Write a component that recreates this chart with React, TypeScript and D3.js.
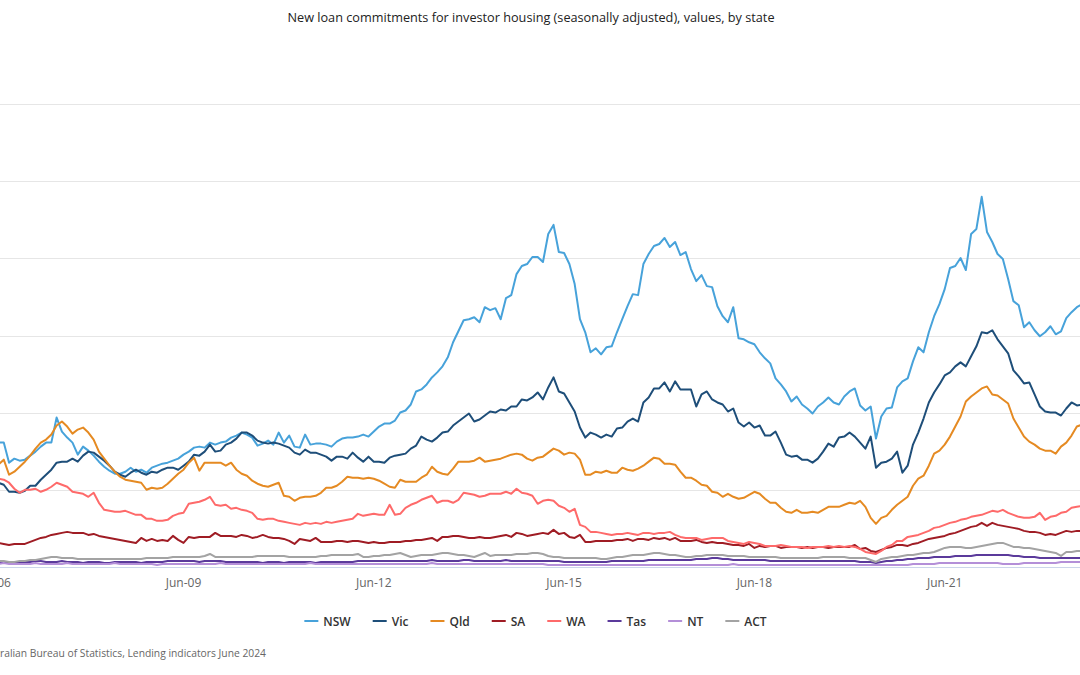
import React, { useEffect, useRef } from 'react';
import * as d3 from 'd3';

const titleText = 'New loan commitments for investor housing (seasonally adjusted), values, by state';
const sourceText = 'Source: Australian Bureau of Statistics, Lending indicators June 2024';
const sourceHiddenPrefix = 'Source: Aust';

// Monthly series, first value = May 2006 ($m)
const tickLabels = ['Jun-06', 'Jun-09', 'Jun-12', 'Jun-15', 'Jun-18', 'Jun-21'];
const tickOffsets = [1, 37, 73, 109, 145, 181]; // months after May 2006
const yTicks = [0, 1000, 2000, 3000, 4000, 5000, 6000];

const seriesNames = ['NSW', 'Vic', 'Qld', 'SA', 'WA', 'Tas', 'NT', 'ACT'];
const seriesColors = ['#47a2da', '#1e4e79', '#e58a22', '#9f1c24', '#fe6a6a', '#5b3a9b', '#b48fd8', '#a3a3a3'];

const NSW = [
  1651,1625,1612,1612,1352,1404,1378,1391,1443,1495,
  1560,1612,1612,1937,1755,1677,1612,1456,1560,1508,
  1443,1365,1300,1248,1209,1209,1235,1287,1235,1261,
  1222,1287,1313,1339,1352,1378,1404,1456,1495,1547,
  1560,1547,1612,1586,1612,1625,1677,1703,1742,1716,
  1677,1573,1599,1638,1586,1742,1612,1703,1560,1547,
  1716,1586,1599,1599,1586,1560,1625,1664,1677,1677,
  1690,1716,1690,1755,1820,1859,1859,1898,2002,2028,
  2106,2275,2301,2366,2457,2522,2600,2717,2912,3055,
  3198,3211,3237,3172,3367,3328,3354,3211,3484,3523,
  3796,3900,3926,4017,4017,3952,4316,4433,4082,4069,
  3926,3666,3211,3042,2782,2834,2756,2847,2860,3042,
  3211,3380,3536,3523,3926,4056,4160,4186,4264,4147,
  4212,4043,4082,3861,3705,3783,3640,3627,3380,3250,
  3172,3367,2964,2951,2912,2886,2782,2704,2639,2444,
  2366,2275,2145,2210,2106,2054,1989,2080,2132,2197,
  2132,2106,2210,2275,2314,2093,2028,2080,1664,1950,
  2054,2067,2327,2405,2444,2665,2847,2782,3042,3250,
  3406,3601,3874,3900,4004,3848,4316,4381,4797,4342,
  4212,4056,3991,3731,3445,3393,3107,3172,3068,2990,
  3042,3120,3016,3055,3224,3302,3367,3406,
];

const Vic = [
  1105,1105,1092,1066,975,975,962,988,1053,1053,
  1131,1196,1261,1352,1365,1365,1404,1365,1443,1495,
  1482,1430,1378,1313,1235,1196,1170,1222,1261,1222,
  1196,1235,1222,1261,1287,1287,1261,1313,1365,1456,
  1443,1495,1586,1495,1508,1586,1612,1664,1742,1742,
  1703,1638,1612,1599,1612,1599,1573,1547,1482,1456,
  1521,1482,1482,1456,1430,1378,1430,1430,1404,1482,
  1417,1365,1430,1365,1365,1352,1417,1443,1456,1469,
  1534,1573,1690,1651,1625,1677,1742,1755,1833,1885,
  1937,1989,1885,1911,1963,2015,2002,2041,2028,2080,
  2080,2171,2158,2197,2262,2171,2327,2457,2275,2249,
  2132,2015,1807,1677,1742,1716,1677,1716,1690,1794,
  1807,1885,1924,1885,2132,2197,2314,2314,2392,2275,
  2405,2301,2301,2301,2080,2236,2275,2171,2132,2106,
  2015,2054,1872,1820,1872,1807,1833,1703,1703,1755,
  1612,1456,1430,1443,1391,1391,1352,1404,1495,1599,
  1560,1677,1690,1742,1690,1612,1534,1690,1287,1352,
  1365,1404,1495,1222,1313,1586,1742,1924,2132,2262,
  2366,2483,2522,2600,2652,2600,2730,2860,3042,3029,
  3068,2951,2860,2769,2548,2470,2379,2392,2236,2080,
  2015,2002,2002,1963,2054,2132,2093,2106,
];

const Qld = [
  1261,1287,1326,1391,1196,1235,1300,1365,1443,1534,
  1612,1651,1716,1833,1885,1820,1729,1781,1807,1742,
  1651,1495,1404,1313,1235,1170,1131,1118,1105,1092,
  1001,1027,1014,1027,1079,1144,1209,1261,1352,1417,
  1248,1352,1352,1352,1352,1313,1352,1261,1209,1183,
  1118,1079,1053,1040,1066,1092,923,910,858,897,
  910,910,923,962,1027,1027,1053,1105,1170,1157,
  1157,1144,1157,1144,1118,1079,1040,1027,1131,1105,
  1105,1105,1157,1196,1300,1235,1209,1196,1274,1365,
  1365,1365,1378,1417,1365,1378,1391,1404,1430,1456,
  1469,1456,1404,1378,1417,1430,1482,1534,1508,1456,
  1482,1469,1391,1196,1196,1235,1222,1248,1222,1222,
  1287,1261,1248,1274,1313,1365,1417,1404,1339,1339,
  1326,1235,1157,1157,1118,1066,1053,975,962,910,
  949,910,884,897,936,975,949,884,832,832,
  767,715,702,741,702,702,715,702,741,780,
  780,780,806,832,819,858,780,637,559,637,
  663,741,806,858,910,1053,1144,1183,1313,1469,
  1508,1586,1690,1820,1950,2145,2210,2262,2314,2340,
  2236,2223,2171,2119,1924,1807,1690,1625,1586,1534,
  1508,1508,1469,1560,1612,1703,1820,1846,
];

const SA = [
  312,312,312,299,286,299,299,299,325,351,
  377,390,416,429,442,455,442,442,442,416,
  429,403,390,377,364,351,338,325,312,377,
  338,364,338,351,338,403,351,312,390,377,
  390,390,390,442,403,403,403,390,416,403,
  377,390,416,390,377,377,364,338,299,364,
  351,338,377,325,325,325,338,338,325,338,
  338,325,312,325,312,312,325,325,325,338,
  338,351,351,364,377,338,390,390,403,403,
  390,377,377,390,377,377,390,403,416,390,
  442,429,403,416,429,442,429,481,429,442,
  390,377,416,325,325,338,338,338,338,351,
  351,364,338,364,364,351,377,364,377,351,
  377,338,338,338,351,325,312,325,312,312,
  299,286,286,273,299,247,273,260,273,273,
  247,260,260,260,247,260,247,260,260,247,
  260,260,260,260,286,234,247,208,195,221,
  247,260,286,286,273,299,312,338,364,377,
  390,403,429,442,468,494,520,533,572,533,
  572,546,533,520,507,494,468,455,455,442,
  416,429,416,442,468,455,468,468,
];

const WA = [
  1157,1157,1144,1131,1092,1014,962,1001,1001,1014,
  975,1001,1040,1092,1066,1040,975,962,949,910,
  962,832,741,728,715,715,728,702,676,676,
  624,624,598,598,611,663,689,702,819,832,
  845,871,910,806,793,806,754,767,741,728,
  702,624,611,624,624,598,585,572,559,546,
  572,559,572,559,585,572,585,598,611,624,
  689,663,676,689,676,676,806,676,689,767,
  806,832,871,897,923,832,858,858,832,871,
  962,949,936,910,923,949,949,949,975,949,
  1014,962,949,923,819,858,871,858,793,767,
  715,754,546,520,455,455,442,429,416,429,
  429,442,429,416,442,442,429,442,442,455,
  416,390,377,377,377,351,364,377,377,377,
  338,325,312,299,325,312,299,273,273,273,
  286,273,260,260,260,247,260,260,260,273,
  260,273,260,273,260,234,195,182,169,208,
  260,286,338,338,390,403,416,442,468,507,
  520,546,572,585,611,624,650,663,676,702,
  728,715,741,702,676,650,637,637,650,702,
  611,650,663,702,715,767,780,793,
];

const Tas = [
  65,65,52,65,65,52,65,65,65,78,
  78,65,65,65,78,65,65,65,52,65,
  65,65,52,52,65,65,65,65,65,52,
  65,65,65,65,78,78,78,
  78,78,78,65,78,78,78,78,65,65,
  65,65,65,65,65,52,65,65,65,52,
  65,65,65,65,65,52,65,65,65,65,
  65,65,65,78,78,78,78,78,78,78,
  78,78,78,78,78,78,78,91,78,78,
  78,78,78,91,91,78,78,78,78,78,
  78,91,78,78,78,78,78,78,
  78,78,78,78,65,65,65,65,65,65,
  65,65,65,78,78,78,78,78,78,78,
  91,91,91,91,91,91,91,91,91,104,
  104,104,117,117,
  104,104,91,91,91,91,91,91,91,78,
  78,78,78,78,78,78,78,78,78,78,
  78,78,78,78,78,78,65,65,65,52,
  65,78,78,91,
  91,104,104,117,117,117,130,130,130,130,
  143,143,143,143,156,156,156,156,156,156,
  156,143,143,130,130,130,117,117,117,117,
  117,117,117,117,117,
];

const NT = [
  39,39,39,52,39,39,39,39,39,52,
  39,39,39,39,39,52,39,39,39,39,
  39,39,39,39,52,39,39,39,39,39,
  39,39,26,39,39,39,39,39,39,39,
  39,39,39,39,52,39,39,39,39,39,
  39,39,39,39,39,39,39,39,39,39,
  39,52,39,39,39,39,39,39,39,39,
  39,39,39,39,39,39,39,39,39,39,
  39,39,39,39,52,39,39,39,39,39,
  39,39,39,39,39,39,39,39,39,39,
  39,39,39,39,39,
  39,26,26,26,26,26,26,26,26,26,
  26,26,26,26,26,26,26,26,26,26,
  26,26,26,26,26,26,26,26,26,26,
  26,26,26,26,26,26,39,26,26,26,
  26,26,26,26,26,26,26,26,26,26,
  26,26,26,26,26,26,26,26,26,26,
  26,26,26,26,26,26,26,26,
  26,26,39,39,39,39,39,52,52,52,
  52,52,52,52,52,52,52,52,52,39,
  39,39,39,52,52,52,52,52,52,52,
  65,65,65,65,65,
];

const ACT = [
  91,91,78,78,65,65,78,78,91,91,104,117,
  130,130,117,117,117,104,104,104,104,104,
  104,104,104,104,104,104,104,104,117,117,117,117,117,130,130,
  130,130,130,130,143,169,130,130,130,130,130,130,130,130,143,
  143,143,143,143,143,130,130,130,130,130,130,143,143,156,156,156,156,156,169,
  130,130,143,143,156,156,169,182,156,130,143,156,156,156,169,182,182,169,156,156,143,130,156,182,143,156,156,156,156,169,169,169,182,182,
  169,143,130,130,117,117,117,117,117,117,117,104,104,117,130,130,143,156,156,156,169,182,182,169,156,156,143,130,130,143,143,156,156,156,
  156,143,143,143,143,130,130,130,130,130,130,117,117,117,117,117,117,117,117,130,130,130,
  130,130,117,117,117,117,91,65,104,117,130,130,
  143,156,156,169,182,182,195,221,247,260,260,260,247,247,260,273,286,299,312,312,286,260,260,247,247,234,221,208,195,182,143,195,195,208,208,
];

const seriesValues = [NSW, Vic, Qld, SA, WA, Tas, NT, ACT];

export default function App() {
  const ref = useRef<SVGSVGElement | null>(null);

  useEffect(() => {
    const svg = d3.select(ref.current);
    svg.selectAll('*').remove();
    const W = 1080;
    const font = '"Open Sans", "Noto Sans", sans-serif';

    const x = d3.scaleLinear().domain([1, 181]).range([-6.8, 944.7]);
    const y = d3.scaleLinear().domain([0, 6000]).range([567, 104]);

    // title
    svg.append('text')
      .attr('x', 531).attr('y', 22)
      .attr('text-anchor', 'middle')
      .attr('font-family', font).attr('font-size', 12.7)
      .attr('fill', '#222222')
      .text(titleText);

    // grid
    const grid = svg.append('g');
    grid.selectAll('line').data(yTicks.filter(t => t > 0)).join('line')
      .attr('x1', -20).attr('x2', W + 20)
      .attr('y1', d => Math.round(y(d)) + 0.5).attr('y2', d => Math.round(y(d)) + 0.5)
      .attr('stroke', '#e6e6e6').attr('stroke-width', 1);

    // x axis
    svg.append('line')
      .attr('x1', -20).attr('x2', W + 20)
      .attr('y1', Math.round(y(0)) + 0.5).attr('y2', Math.round(y(0)) + 0.5)
      .attr('stroke', '#ccd6eb');
    svg.append('g').selectAll('text').data(tickLabels).join('text')
      .attr('x', (d, i) => x(tickOffsets[i]))
      .attr('y', 587)
      .attr('text-anchor', 'middle')
      .attr('font-family', font).attr('font-size', 12)
      .attr('fill', '#666666')
      .text(d => d);

    // lines
    const line = d3.line<number>()
      .x((d, i) => x(i))
      .y(d => y(d));
    const lg = svg.append('g');
    seriesValues.forEach((vals, si) => {
      lg.append('path')
        .attr('d', line(vals) as string)
        .attr('fill', 'none')
        .attr('stroke', seriesColors[si])
        .attr('stroke-width', 2)
        .attr('stroke-linejoin', 'round')
        .attr('stroke-linecap', 'round');
    });

    // legend
    const leg = svg.append('g');
    const items = seriesNames.map((name, i) => {
      const g = leg.append('g');
      g.append('line').attr('x1', 0).attr('x2', 14).attr('y1', 0).attr('y2', 0)
        .attr('stroke', seriesColors[i]).attr('stroke-width', 2);
      const t = g.append('text').attr('x', 19).attr('y', 4.5)
        .attr('font-family', font).attr('font-size', 12).attr('font-weight', 600)
        .attr('fill', '#333333').text(name);
      const w = (t.node() as SVGTextElement).getComputedTextLength();
      return { g, w: 19 + w };
    });
    const gap = 22;
    const total = items.reduce((s, it) => s + it.w, 0) + gap * (items.length - 1);
    let cx = 535.5 - total / 2;
    items.forEach(it => {
      it.g.attr('transform', `translate(${cx},621)`);
      cx += it.w + gap;
    });

    // source
    const srcSize = 10.3;
    const probe = svg.append('text').attr('font-family', font).attr('font-size', srcSize).text(sourceHiddenPrefix);
    const pw = (probe.node() as SVGTextElement).getComputedTextLength();
    probe.remove();
    svg.append('text')
      .attr('x', -pw).attr('y', 657)
      .attr('font-family', font).attr('font-size', srcSize)
      .attr('fill', '#666666')
      .text(sourceText);
  }, []);

  return (
    <svg
      ref={ref}
      width={1080}
      height={675}
      style={{ position: 'absolute', left: 0, top: 0, display: 'block', background: '#ffffff' }}
    />
  );
}
